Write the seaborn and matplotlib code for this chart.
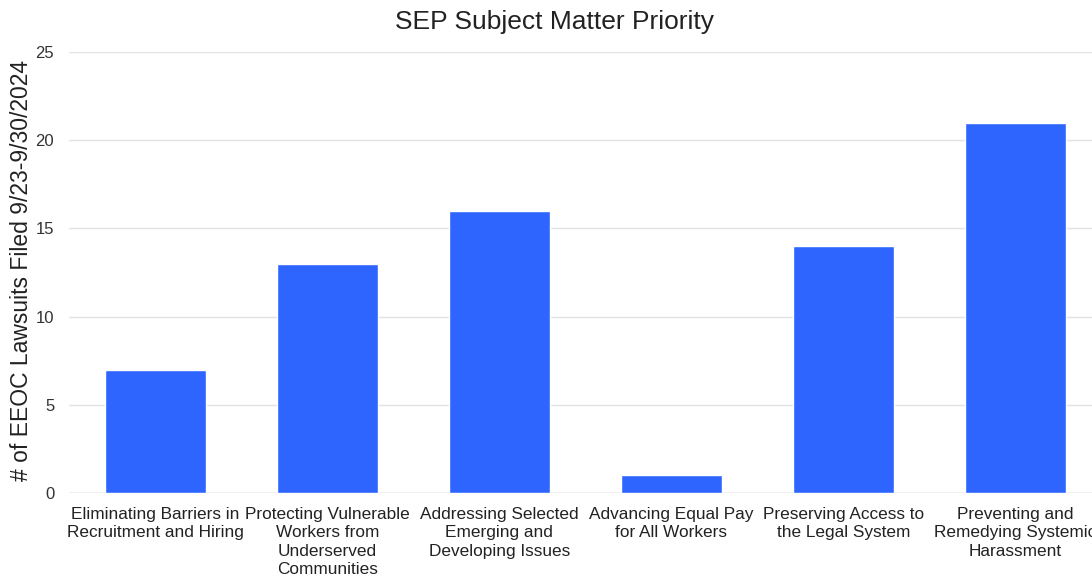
import matplotlib
matplotlib.use("Agg")
import matplotlib.pyplot as plt
import seaborn as sns
import pandas as pd

categories = [
    "Eliminating Barriers in\nRecruitment and Hiring",
    "Protecting Vulnerable\nWorkers from\nUnderserved\nCommunities",
    "Addressing Selected\nEmerging and\nDeveloping Issues",
    "Advancing Equal Pay\nfor All Workers",
    "Preserving Access to\nthe Legal System",
    "Preventing and\nRemedying Systemic\nHarassment",
]
lawsuits = [7, 13, 16, 1, 14, 21]
y_ticks = [0, 5, 10, 15, 20, 25]

df = pd.DataFrame({"priority": categories, "lawsuits": lawsuits})

sns.set_theme(style="white")
plt.rcParams["font.family"] = ["Liberation Sans", "DejaVu Sans"]

fig = plt.figure(figsize=(10.92, 5.79), dpi=100)
ax = fig.add_axes([0.0636, 0.1485, 0.945, 0.7617])

sns.barplot(data=df, x="priority", y="lawsuits", color="#2F65FF",
            width=0.59, saturation=1, ax=ax, zorder=3)

ax.set_ylim(0, 25)
ax.set_xlim(-0.5, 5.5)
ax.set_yticks(y_ticks)
ax.yaxis.grid(True, color="#e3e3e3", linewidth=1, zorder=0)
ax.set_axisbelow(True)
for s in ax.spines.values():
    s.set_visible(False)
ax.axhline(0, color="#d0d0d0", linewidth=1, zorder=2)

ax.tick_params(axis="y", length=0, pad=11, labelsize=12, labelcolor="#333333")
ax.tick_params(axis="x", length=0, pad=10, labelsize=12.4, labelcolor="#222222")
for lbl in ax.get_xticklabels():
    lbl.set_linespacing(1.28)

ax.set_xlabel("")
ax.set_ylabel("# of EEOC Lawsuits Filed 9/23-9/30/2024", fontsize=16.5,
              color="#222222")
ax.yaxis.set_label_coords(-0.035, 0.505)
fig.suptitle("SEP Subject Matter Priority", x=0.508, y=0.982,
             fontsize=19, color="#222222")

fig.savefig("out.png", dpi=100)
